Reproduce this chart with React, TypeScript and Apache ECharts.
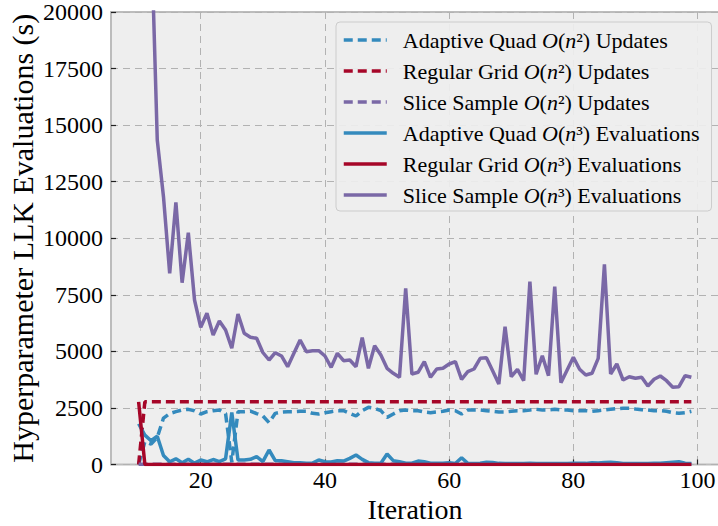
import React, { useEffect, useRef } from "react";
import * as echarts from "echarts";

const START_ITER = 10;
const N_POINTS = 90;
const iterations: number[] = Array.from({ length: N_POINTS }, (_, i) => START_ITER + i);

const xTicks = [20, 40, 60, 80, 100];

const seriesNames = [
  "Adaptive Quad O(n²) Updates",
  "Regular Grid O(n²) Updates",
  "Slice Sample O(n²) Updates",
  "Adaptive Quad O(n³) Evaluations",
  "Regular Grid O(n³) Evaluations",
  "Slice Sample O(n³) Evaluations",
];

// iterations 10..99
const aqUpdates = [
  0, 1000, 900, 1200, 2050, 2250, 2335, 2408, 2438, 2379,
  2232, 2335, 2379, 2408, 2250, 100, 2335, 2335, 2364, 2250,
  2150, 1850, 2261, 2320, 2335, 2335, 2350, 2350, 2261, 2232,
  2290, 2335, 2379, 2379, 2261, 2143, 2379, 2526, 2482, 2379,
  2084, 2232, 2379, 2408, 2379, 2379, 2320, 2290, 2320, 2350,
  2408, 2379, 2232, 2408, 2408, 2408, 2379, 2350, 2320, 2320,
  2350, 2379, 2379, 2408, 2438, 2408, 2408, 2438, 2408, 2408,
  2379, 2379, 2379, 2350, 2379, 2408, 2438, 2467, 2482, 2482,
  2452, 2423, 2408, 2379, 2379, 2350, 2290, 2261, 2290, 2350,
];

const rgUpdates = [
  0, 2770, 2770, 2770, 2770, 2770, 2770, 2770, 2770, 2770,
  2770, 2770, 2770, 2770, 2770, 2770, 2770, 2770, 2770, 2770,
  2770, 2770, 2770, 2770, 2770, 2770, 2770, 2770, 2770, 2770,
  2770, 2770, 2770, 2770, 2770, 2770, 2770, 2770, 2770, 2770,
  2770, 2770, 2770, 2770, 2770, 2770, 2770, 2770, 2770, 2770,
  2770, 2770, 2770, 2770, 2770, 2770, 2770, 2770, 2770, 2770,
  2770, 2770, 2770, 2770, 2770, 2770, 2770, 2770, 2770, 2770,
  2770, 2770, 2770, 2770, 2770, 2770, 2770, 2770, 2770, 2770,
  2770, 2770, 2770, 2770, 2770, 2770, 2770, 2770, 2770, 2770,
];

const ssUpdates = [
  10, 10, 10, 10, 10, 10, 10, 10, 10, 10,
  10, 10, 10, 10, 10, 10, 10, 10, 10, 10,
  10, 10, 10, 10, 10, 10, 10, 10, 10, 10,
  10, 10, 10, 10, 10, 10, 10, 10, 10, 10,
  10, 10, 10, 10, 10, 10, 10, 10, 10, 10,
  10, 10, 10, 10, 10, 10, 10, 10, 10, 10,
  10, 10, 10, 10, 10, 10, 10, 10, 10, 10,
  10, 10, 10, 10, 10, 10, 10, 10, 10, 10,
  10, 10, 10, 10, 10, 10, 10, 10, 10, 10,
];

const aqEvals = [
  1800, 1300, 1050, 1250, 400, 120, 250, 80, 230, 60,
  200, 120, 220, 130, 250, 2300, 200, 199, 228, 346,
  125, 641, 169, 169, 125, 81, 81, 60, 60, 199,
  125, 110, 169, 150, 272, 420, 228, 81, 60, 60,
  464, 169, 125, 60, 60, 150, 120, 60, 50, 60,
  80, 40, 300, 50, 40, 60, 100, 90, 50, 40,
  40, 40, 40, 50, 40, 40, 40, 40, 40, 40,
  50, 60, 50, 80, 70, 90, 100, 80, 40, 40,
  40, 40, 40, 50, 60, 80, 100, 120, 60, 40,
];

const rgEvals = [
  2770, 5, 5, 5, 5, 5, 5, 5, 5, 5,
  5, 5, 5, 5, 5, 5, 5, 5, 5, 5,
  5, 5, 5, 5, 5, 5, 5, 5, 5, 5,
  5, 5, 5, 5, 5, 5, 5, 5, 5, 5,
  5, 5, 5, 5, 5, 5, 5, 5, 5, 5,
  5, 5, 5, 5, 5, 5, 5, 5, 5, 5,
  5, 5, 5, 5, 5, 5, 5, 5, 5, 5,
  5, 5, 5, 5, 5, 5, 5, 5, 5, 5,
  5, 5, 5, 5, 5, 5, 5, 5, 5, 5,
];

const ssEvals = [
  60000, 40000, 23800, 14343, 11837, 8451, 11589, 8036, 10246, 7271,
  6064, 6683, 5724, 6343, 5945, 5136, 6652, 5799, 5622, 5578,
  4950, 4619, 4942, 4796, 4323, 4915, 5503, 4986, 5030, 5030,
  4796, 4296, 4915, 4588, 4619, 4323, 5605, 4252, 5251, 4840,
  4252, 4031, 3854, 7788, 4000, 4075, 4544, 3854, 4221, 4252,
  4442, 4544, 3766, 4102, 4221, 4694, 4721, 4146, 3558, 6091,
  3881, 4208, 3704, 8080, 3987, 4809, 3925, 7859, 3616, 4177,
  4738, 4208, 3956, 4031, 4694, 8849, 4000, 4442, 3735, 3881,
  3810, 3854, 3470, 3766, 3912, 3704, 3412, 3439, 3925, 3854,
];

const BLUE = "#348ABD";
const RED = "#A60628";
const PURPLE = "#7A68A6";
const FONT = "Liberation Serif";

const pair = (vals: number[]) => iterations.map((it, i) => [it, vals[i]]);

export default function App() {
  const ref = useRef<HTMLDivElement>(null);

  useEffect(() => {
    if (!ref.current) return;
    const chart = echarts.init(ref.current, undefined, { renderer: "svg" });
    const dash = [9, 5];
    const mk = (name: string, vals: number[], color: string, dashed: boolean, z: number) => ({
      name,
      type: "line",
      data: pair(vals),
      symbol: "none",
      showSymbol: false,
      clip: true,
      z,
      lineStyle: { color, width: 3.5, type: dashed ? dash : "solid", cap: "butt" },
      itemStyle: { color },
    });
    chart.setOption({
      animation: false,
      backgroundColor: "#ffffff",
      grid: {
        left: 111,
        top: 12,
        width: 608,
        height: 452.5,
        outerBoundsMode: "none",
        containLabel: false,
        show: true,
        backgroundColor: "#eeeeee",
        borderColor: "#bcbcbc",
        borderWidth: 2,
      },
      xAxis: {
        type: "value",
        min: 5.55,
        max: 103.45,
        name: "Iteration",
        nameLocation: "middle",
        nameGap: 33,
        nameMoveOverlap: false,
        nameTextStyle: { fontFamily: FONT, fontSize: 28, lineHeight: 24, color: "#000" },
        axisLine: { show: false },
        axisTick: { show: true, inside: true, length: 5, customValues: xTicks, lineStyle: { color: "#222", width: 1.2 } },
        axisLabel: { customValues: xTicks, fontFamily: FONT, fontSize: 24, lineHeight: 22, color: "#000", margin: 4 },
        splitLine: { show: true, lineStyle: { color: "#b2b2b2", width: 1, type: [7, 5] } },
      },
      yAxis: {
        type: "value",
        min: 0,
        max: 20000,
        interval: 2500,
        name: "Hyperparameter LLK Evaluations (s)",
        nameLocation: "middle",
        nameGap: 74,
        nameMoveOverlap: false,
        nameTextStyle: { fontFamily: FONT, fontSize: 30, color: "#000" },
        axisLine: { show: false },
        axisTick: { show: true, inside: true, length: 5, lineStyle: { color: "#222", width: 1.2 } },
        axisLabel: {
          fontFamily: FONT,
          fontSize: 24,
          color: "#000",
          margin: 8,
          formatter: (v: number) => String(v),
        },
        splitLine: { show: true, lineStyle: { color: "#b2b2b2", width: 1, type: [7, 5] } },
      },
      legend: {
        orient: "vertical",
        left: 336,
        top: 22,
        padding: [7, 12, 5, 6],
        itemWidth: 43,
        itemHeight: 14,
        itemGap: 9,
        backgroundColor: "rgba(238,238,238,0.92)",
        borderColor: "#cccccc",
        borderWidth: 1,
        borderRadius: 4,
        itemStyle: { opacity: 0, borderWidth: 0 },
        data: seriesNames.map((n, i) => ({
          name: n,
          itemStyle: { opacity: 0, borderWidth: 0 },
          lineStyle: { type: i < 3 ? dash : "solid", width: 3.5 },
        })),
        formatter: (name: string) => name.replace("O(n", "{o|O}({n|n}"),
        textStyle: {
          fontFamily: FONT,
          fontSize: 22,
          color: "#000",
          padding: [0, 0, 0, 11],
          rich: {
            o: { fontFamily: FONT, fontSize: 22, fontStyle: "italic", color: "#000" },
            n: { fontFamily: FONT, fontSize: 22, fontStyle: "italic", color: "#000" },
          },
        },
      },
      series: [
        mk(seriesNames[0], aqUpdates, BLUE, true, 2),
        mk(seriesNames[1], rgUpdates, RED, true, 3),
        mk(seriesNames[2], ssUpdates, PURPLE, true, 4),
        mk(seriesNames[3], aqEvals, BLUE, false, 5),
        mk(seriesNames[4], rgEvals, RED, false, 6),
        mk(seriesNames[5], ssEvals, PURPLE, false, 7),
      ],
    });
    return () => chart.dispose();
  }, []);

  return (
    <div
      ref={ref}
      style={{ position: "fixed", left: 0, top: 0, width: 718, height: 526, background: "#fff" }}
    />
  );
}
